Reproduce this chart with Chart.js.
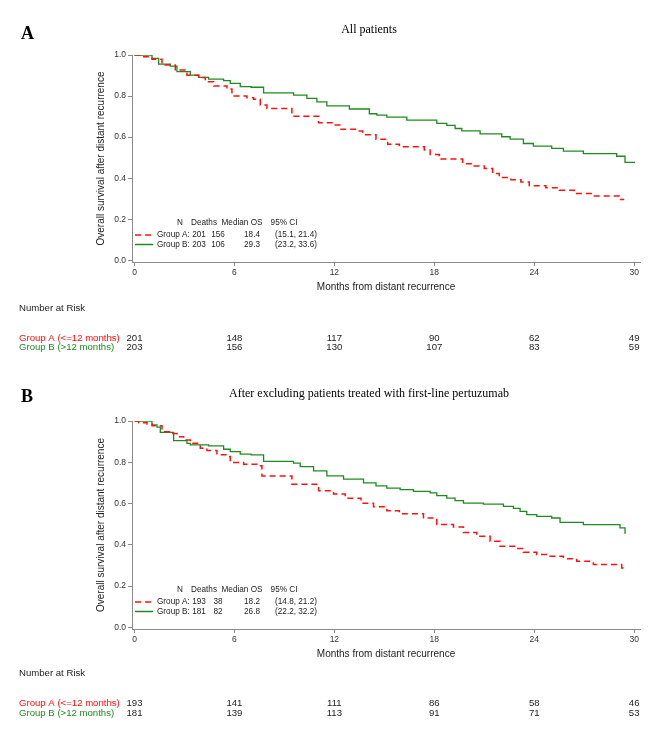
<!DOCTYPE html>
<html>
<head>
<meta charset="utf-8">
<script src="https://cdn.jsdelivr.net/npm/chart.js@4.4.1/dist/chart.umd.min.js"></script>
<style>
  html, body { margin: 0; padding: 0; background: #fff; }
  canvas { display: block; }
</style>
</head>
<body>
<canvas id="chartA" width="661" height="372"></canvas>
<canvas id="chartB" width="661" height="372"></canvas>
<script>
// tick labels
const monthTicks = [0, 6, 12, 18, 24, 30];
const survTicks = [0, 0.2, 0.4, 0.6, 0.8, 1.0];
const riskTimes = [0, 6, 12, 18, 24, 30];

// Panel A - all patients (time of drop, survival after drop)
const timesA_grpA = [0, 0.35, 1.05, 1.65, 2.45, 3.15, 3.85, 4.25, 4.75, 5.55, 5.85, 6.75, 7.15, 7.55, 7.95, 9.45, 11.05, 11.95, 12.4, 13.4, 13.7, 14.5, 15.2, 15.9, 17.4, 17.75, 18.3, 19.7, 20.3, 21.0, 21.5, 21.9, 22.6, 23.2, 23.7, 24.7, 25.5, 26.4, 27.5, 29.1, 29.4];
const survA_grpA = [1, 0.992, 0.979, 0.951, 0.927, 0.902, 0.891, 0.870, 0.849, 0.834, 0.800, 0.792, 0.784, 0.756, 0.740, 0.702, 0.670, 0.659, 0.638, 0.630, 0.612, 0.590, 0.566, 0.553, 0.537, 0.515, 0.493, 0.471, 0.459, 0.447, 0.423, 0.403, 0.393, 0.382, 0.363, 0.354, 0.341, 0.325, 0.314, 0.296, 0.296];
const timesA_grpB = [0, 1.05, 1.45, 2.15, 2.55, 3.35, 3.85, 4.45, 5.35, 5.75, 6.35, 7.0, 7.75, 9.55, 10.35, 10.95, 11.55, 12.9, 14.1, 14.55, 15.15, 16.35, 18.15, 18.75, 19.25, 19.65, 20.75, 22.05, 22.55, 23.35, 23.95, 25.05, 25.75, 26.95, 28.95, 29.45, 30.05];
const survA_grpB = [1, 0.984, 0.956, 0.946, 0.919, 0.902, 0.891, 0.883, 0.875, 0.862, 0.846, 0.843, 0.816, 0.805, 0.789, 0.772, 0.752, 0.737, 0.714, 0.707, 0.697, 0.683, 0.667, 0.657, 0.642, 0.631, 0.616, 0.602, 0.590, 0.569, 0.556, 0.545, 0.532, 0.520, 0.507, 0.477, 0.477];
const riskA_grpA = [201, 148, 117, 90, 62, 49];
const riskA_grpB = [203, 156, 130, 107, 83, 59];
const statsA_grpA = ['201', '156', '18.4', '(15.1, 21.4)'];
const statsA_grpB = ['203', '106', '29.3', '(23.2, 33.6)'];

// Panel B - excluding first-line pertuzumab
const timesB_grpA = [0, 0.25, 0.75, 1.05, 1.65, 2.1, 2.55, 2.95, 3.35, 3.95, 4.35, 4.95, 5.55, 5.75, 6.55, 7.35, 7.65, 9.45, 11.05, 11.95, 12.65, 13.6, 14.35, 15.15, 15.9, 17.35, 18.15, 19.15, 19.75, 20.55, 21.35, 21.95, 22.95, 23.35, 24.15, 24.95, 25.75, 26.55, 27.55, 29.25, 29.4];
const survB_grpA = [1, 0.992, 0.986, 0.977, 0.948, 0.940, 0.924, 0.908, 0.892, 0.868, 0.857, 0.836, 0.828, 0.799, 0.791, 0.783, 0.734, 0.694, 0.662, 0.646, 0.626, 0.602, 0.585, 0.565, 0.551, 0.530, 0.498, 0.486, 0.460, 0.441, 0.417, 0.393, 0.382, 0.364, 0.353, 0.345, 0.333, 0.320, 0.304, 0.288, 0.288];
const timesB_grpB = [0, 1.05, 1.35, 1.55, 2.35, 3.15, 3.35, 4.45, 5.35, 5.75, 6.35, 7.0, 7.75, 9.55, 9.95, 10.75, 11.55, 12.55, 13.75, 14.5, 15.15, 15.95, 16.75, 17.75, 18.15, 18.75, 19.25, 19.75, 20.95, 22.15, 22.75, 23.15, 23.55, 24.15, 25.05, 25.55, 26.95, 29.15, 29.45, 29.5];
const survB_grpB = [1, 0.981, 0.970, 0.945, 0.905, 0.892, 0.884, 0.879, 0.863, 0.852, 0.839, 0.836, 0.804, 0.796, 0.779, 0.758, 0.734, 0.718, 0.700, 0.686, 0.675, 0.667, 0.659, 0.652, 0.638, 0.626, 0.614, 0.602, 0.597, 0.586, 0.577, 0.562, 0.546, 0.538, 0.530, 0.509, 0.498, 0.482, 0.457, 0.457];
const riskB_grpA = [193, 141, 111, 86, 58, 46];
const riskB_grpB = [181, 139, 113, 91, 71, 53];
const statsB_grpA = ['193', '38', '18.2', '(14.8, 21.2)'];
const statsB_grpB = ['181', '82', '26.8', '(22.2, 32.2)'];

const legendHeader = ['N', 'Deaths', 'Median OS', '95% CI'];
const groupNames = ['Group A:', 'Group B:'];
const riskLabels = ['Group A (<=12 months)', 'Group B (>12 months)'];

const RED = '#ff1010';
const GREEN = '#1f8a1f';
const AXIS = '#8a8a8a';
const SANS = "'Liberation Sans', Arial, sans-serif";
const SERIF = "'Liberation Serif', 'Times New Roman', serif";

Chart.defaults.font.family = SANS;

function toPoints(times, surv) {
  return times.map((t, i) => ({ x: t, y: surv[i] }));
}

// titles, inset legend and number-at-risk table
const annotate = {
  id: 'annotate',
  afterDraw(chart, args, o) {
    const { ctx, chartArea } = chart;
    const xs = chart.scales.x;
    const L = chartArea.left;
    const B = chartArea.bottom;
    ctx.save();
    ctx.textBaseline = 'middle';

    ctx.fillStyle = '#000';
    ctx.textAlign = 'left';
    ctx.font = 'bold 18px ' + SERIF;
    ctx.fillText(o.letter, 21, o.letterY);
    ctx.textAlign = 'center';
    ctx.font = '12px ' + SERIF;
    ctx.fillText(o.title, 369, o.titleY);

    // inset legend
    ctx.font = '8.2px ' + SANS;
    ctx.fillStyle = '#222';
    const headX = [48, 72, 110, 152];
    legendHeader.forEach((h, i) => ctx.fillText(h, L + headX[i], B - 39));
    const colX = [67, 86, 120, 164];
    const rows = [[o.statsA, B - 27, RED, [6, 4]], [o.statsB, B - 17.5, GREEN, []]];
    rows.forEach(([stats, y, col, dash], r) => {
      ctx.strokeStyle = col;
      ctx.lineWidth = 1.5;
      ctx.setLineDash(dash);
      ctx.beginPath();
      ctx.moveTo(L + 3, y);
      ctx.lineTo(L + 21, y);
      ctx.stroke();
      ctx.setLineDash([]);
      ctx.fillStyle = '#222';
      ctx.textAlign = 'left';
      ctx.fillText(groupNames[r], L + 25, y);
      ctx.textAlign = 'center';
      stats.forEach((s, i) => ctx.fillText(s, L + colX[i], y));
    });

    // number at risk
    ctx.font = '9.6px ' + SANS;
    ctx.textAlign = 'left';
    ctx.fillStyle = '#222';
    ctx.fillText('Number at Risk', 19, B + o.riskHead);
    [[o.riskA, o.riskRowA, RED], [o.riskB, o.riskRowB, GREEN]].forEach(([vals, off, col], r) => {
      ctx.textAlign = 'left';
      ctx.fillStyle = col;
      ctx.fillText(riskLabels[r], 19, B + off);
      ctx.textAlign = 'center';
      ctx.fillStyle = '#222';
      vals.forEach((v, i) => ctx.fillText(String(v), xs.getPixelForValue(riskTimes[i]), B + off));
    });
    ctx.restore();
  }
};

function makePanel(id, p) {
  return new Chart(document.getElementById(id), {
    type: 'line',
    data: {
      datasets: [
        { label: 'Group A', data: toPoints(p.tA, p.sA), borderColor: RED, borderWidth: 1.5, borderDash: [6, 4], stepped: 'before', pointRadius: 0, fill: false },
        { label: 'Group B', data: toPoints(p.tB, p.sB), borderColor: GREEN, borderWidth: 1.3, stepped: 'before', pointRadius: 0, fill: false },
      ],
    },
    options: {
      responsive: false,
      animation: false,
      layout: { padding: { left: 90, right: 21, top: p.top, bottom: p.bottom } },
      plugins: {
        legend: { display: false },
        tooltip: { enabled: false },
        annotate: {
          letter: p.letter, letterY: p.letterY, title: p.title, titleY: p.titleY,
          statsA: p.statsA, statsB: p.statsB, riskA: p.riskA, riskB: p.riskB,
          riskHead: p.riskHead, riskRowA: p.riskRowA, riskRowB: p.riskRowB,
        },
      },
      scales: {
        x: {
          type: 'linear', min: -0.15, max: 30.35,
          afterBuildTicks: (s) => { s.ticks = monthTicks.map((v) => ({ value: v })); },
          afterFit: (s) => { s.height = 31; },
          ticks: { color: '#333', font: { size: 8.5 }, padding: 2, maxRotation: 0, autoSkip: false },
          grid: { drawOnChartArea: false, tickLength: 4, color: AXIS },
          border: { color: AXIS, width: 1 },
          title: { display: true, text: 'Months from distant recurrence', color: '#222', font: { size: 10 }, padding: 0 },
        },
        y: {
          type: 'linear', min: -0.008, max: 1.0,
          afterBuildTicks: (s) => { s.ticks = survTicks.map((v) => ({ value: v })); },
          afterFit: (s) => { s.width = 42; },
          ticks: { color: '#333', font: { size: 8.5 }, padding: 2, callback: (v) => Number(v).toFixed(1) },
          grid: { drawOnChartArea: false, tickLength: 4, color: AXIS },
          border: { color: AXIS, width: 1 },
          title: { display: true, text: 'Overall survival after distant recurrence', color: '#222', font: { size: 10 }, padding: { top: 5, bottom: 0 } },
        },
      },
    },
    plugins: [annotate],
  });
}

makePanel('chartA', {
  tA: timesA_grpA, sA: survA_grpA, tB: timesA_grpB, sB: survA_grpB,
  top: 55, bottom: 79, letter: 'A', letterY: 34, title: 'All patients', titleY: 30,
  statsA: statsA_grpA, statsB: statsA_grpB, riskA: riskA_grpA, riskB: riskA_grpB,
  riskHead: 46, riskRowA: 76, riskRowB: 85.5,
});

makePanel('chartB', {
  tA: timesB_grpA, sA: survB_grpA, tB: timesB_grpB, sB: survB_grpB,
  top: 49, bottom: 84, letter: 'B', letterY: 25, title: 'After excluding patients treated with first-line pertuzumab', titleY: 22,
  statsA: statsB_grpA, statsB: statsB_grpB, riskA: riskB_grpA, riskB: riskB_grpB,
  riskHead: 44, riskRowA: 74.5, riskRowB: 84,
});
</script>
</body>
</html>
